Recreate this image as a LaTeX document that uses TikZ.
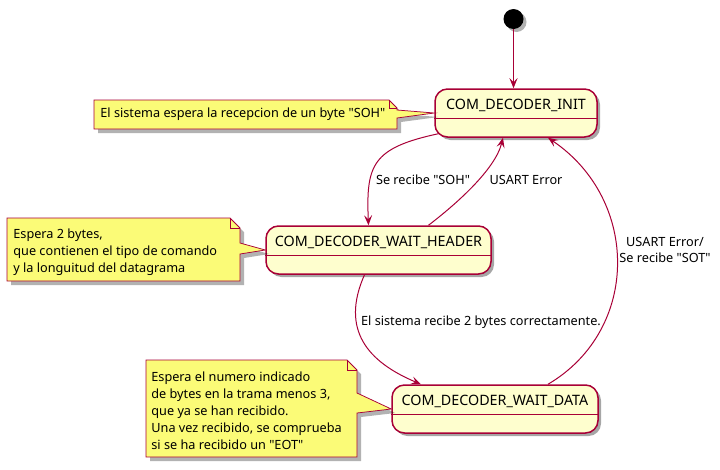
\documentclass[tikz,border=0pt]{standalone}
\usepackage{fontspec}
\setmainfont{Noto Sans}[Ligatures=TeXOff]
\usetikzlibrary{arrows.meta,shadows}
\definecolor{umlred}{RGB}{168,0,54}
\definecolor{statefill}{RGB}{254,254,206}
\definecolor{notefill}{RGB}{251,251,119}

\tikzset{every picture/.style={line width=0.75pt}}
\tikzset{
  state/.style={draw=umlred, fill=statefill, line width=1.5pt, rounded corners=12.5pt,
    minimum height=48pt, inner sep=0pt, text height=10pt, text depth=18pt,
    font=\fontsize{14.3}{16}\selectfont,
    drop shadow={shadow xshift=3pt, shadow yshift=-3pt, opacity=0.35, fill=black}},
  startdot/.style={circle, fill=black, minimum size=20pt, inner sep=0pt,
    drop shadow={shadow xshift=3pt, shadow yshift=-3pt, opacity=0.3, fill=black}},
  note/.style={draw=umlred, fill=notefill, line width=0.75pt,
    drop shadow={shadow xshift=4pt, shadow yshift=-4pt, opacity=0.3, fill=black}},
  notetext/.style={anchor=west, align=left, inner sep=0pt, font=\fontsize{12.7}{17}\selectfont},
  edge/.style={draw=umlred, line width=1pt, -{Stealth[length=10pt, width=8pt, inset=4pt]}},
  edgelabel/.style={inner sep=0pt, align=center, font=\fontsize{12.7}{16}\selectfont},
}

\begin{document}
\begin{tikzpicture}[x=1pt,y=1pt,yscale=-1,xscale=1]
	\useasboundingbox (0,0) rectangle (720,469);
	
	%Shape: Circle [start]
	\node [startdot] (start) at (513.5,19) {};
	%Shape: States
	\node [state, minimum width=162pt] (init) at (516,113) {COM\_DECODER\_INIT};
	\draw [umlred, line width=1.5pt] ([yshift=30pt]init.north west) -- ([yshift=30pt]init.north east);
	\node [state, minimum width=225pt] (header) at (378.5,250) {COM\_DECODER\_WAIT\_HEADER};
	\draw [umlred, line width=1.5pt] ([yshift=30pt]header.north west) -- ([yshift=30pt]header.north east);
	\node [state, minimum width=206pt] (data) at (495,409) {COM\_DECODER\_WAIT\_DATA};
	\draw [umlred, line width=1.5pt] ([yshift=30pt]data.north west) -- ([yshift=30pt]data.north east);
	
	%Shape: Notes
	\draw [note] (94,100) -- (389,100) -- (397,108) -- (397,110) -- (init.west) -- (397,118) -- (397,129) -- (94,129) -- cycle ;
	\draw [umlred] (389,100) -- (389,108) -- (397,108) ;
	\draw [note] (7,218) -- (230,218) -- (240,228) -- (240,243) -- (header.west) -- (240,254) -- (240,281) -- (7,281) -- cycle ;
	\draw [umlred] (230,218) -- (230,228) -- (240,228) ;
	\draw [note] (146,360) -- (347,360) -- (357,370) -- (357,393) -- (data.west) -- (357,413) -- (357,457) -- (146,457) -- cycle ;
	\draw [umlred] (347,360) -- (347,370) -- (357,370) ;
	
	% Text Node
	\node [notetext] (note1) at (100,114.5) {El sistema espera la recepcion de un byte "SOH"};
	% Text Node
	\node [notetext] (note2) at (13,252) {Espera 2 bytes,\\que contienen el tipo de comando\\y la longuitud del datagrama};
	% Text Node
	\node [notetext] (note3) at (151,411) {Espera el numero indicado\\de bytes en la trama menos 3,\\que ya se han recibido.\\Una vez recibido, se comprueba\\si se ha recibido un "EOT"};
	
	%Curve Lines
	\draw [edge] (start.south) -- (start.south |- init.north) ;
	\draw [edge] ([shift={(4pt,-4pt)}]init.south west) .. controls (372,148) and (366,165) .. ([xshift=-10pt]header.north) ;
	\draw [edge] ([xshift=50pt]header.north) .. controls (455,205) and (495,170) .. ([xshift=-13pt]init.south) ;
	\draw [edge] ([xshift=-14pt]header.south) .. controls (340,330) and (368,362) .. ([xshift=-74pt]data.north) ;
	\draw [edge] ([xshift=53pt]data.north) .. controls (640,330) and (640,200) .. ([xshift=32pt]init.south) ;
	
	% Text Node
	\node [edgelabel] (lsoh) at (423,180) {Se recibe "SOH"};
	% Text Node
	\node [edgelabel] (lerr) at (526,180) {USART Error};
	% Text Node
	\node [edgelabel] (lok) at (481,322) {El sistema recibe 2 bytes correctamente.};
	% Text Node
	\node [edgelabel] (lsot) at (665,250) {USART Error/\\Se recibe "SOT"};
	
\end{tikzpicture}
\end{document}
